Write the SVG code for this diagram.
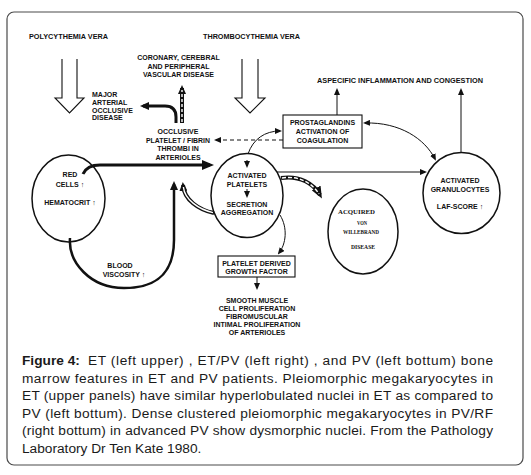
<svg xmlns="http://www.w3.org/2000/svg" width="531" height="475" viewBox="0 0 531 475">
<defs>
<style>
.lb{font-family:"Liberation Sans",Arial,sans-serif;font-weight:bold;font-size:7px;fill:#111;text-anchor:middle}
.ll{font-family:"Liberation Sans",Arial,sans-serif;font-weight:bold;font-size:7px;fill:#111;text-anchor:start}
.vw{font-family:"Liberation Serif","Times New Roman",serif;font-weight:bold;font-size:5.5px;fill:#111;text-anchor:start}
.cap{font-family:"Liberation Sans",Arial,sans-serif;font-size:13.7px;fill:#1a1a1a}
.nd{fill:none;stroke:#111;stroke-width:1.5}
.bx{fill:#fff;stroke:#111;stroke-width:1.1}
.thin{fill:none;stroke:#111;stroke-width:1}
.thick{fill:none;stroke:#111;stroke-width:3}
.hol{fill:none;stroke:#111;stroke-width:4}
.holw{fill:none;stroke:#fff;stroke-width:1.4}
.hollow{fill:#fff;stroke:#111;stroke-width:1.1}
</style>
<marker id="th" markerUnits="userSpaceOnUse" markerWidth="7" markerHeight="6" refX="5" refY="3" orient="auto-start-reverse" viewBox="0 0 7 6">
<path d="M0,0 L7,3 L0,6 z" fill="#111"/>
</marker>
<marker id="bg" markerUnits="userSpaceOnUse" markerWidth="12" markerHeight="10" refX="8" refY="5" orient="auto" viewBox="0 0 12 10">
<path d="M0,0 L12,5 L0,10 z" fill="#111"/>
</marker>
<marker id="md" markerUnits="userSpaceOnUse" markerWidth="9" markerHeight="8" refX="6" refY="4" orient="auto" viewBox="0 0 9 8">
<path d="M0,0 L9,4 L0,8 z" fill="#111"/>
</marker>
</defs>
<rect x="7" y="12" width="516" height="453" rx="7" fill="#fff" stroke="#4a4a4a" stroke-width="1.2"/>

<g id="connectors">
<polyline class="hollow" points="62,59 62,98 55,98 69.5,113 84,98 77,98 77,59"/>
<polyline class="hollow" points="242,59 242,98 235,98 250,113 265,98 258,98 258,59"/>
<path class="hol" d="M182,123 L182,88" marker-end="url(#md)"/>
<path class="holw" d="M182,122 L182,90" stroke-dasharray="3,2"/>
<path class="thick" d="M176,123 L176,117 Q176,106 165,106 L143,106" marker-end="url(#md)"/>
<path class="thick" d="M83,174 Q87,165 100,165 L210,165" marker-end="url(#bg)"/>
<path fill="none" stroke="#111" stroke-width="2.5" d="M70,238 C68,262 90,288 124,288 C160,288 174,270 174,240 L174,184" marker-end="url(#md)"/>
<path class="hol" d="M214,213 C199,210 184,200 183,185" marker-end="url(#md)"/>
<path class="holw" d="M213,212.6 C199,209.6 184.5,199.6 183.4,187"/>
<path class="hol" d="M281,178 C300,175 314,184 320,195" marker-end="url(#bg)"/>
<path class="holw" d="M282,178 C300,175 313.5,184.5 319,194" stroke-dasharray="4,2"/>
<path class="thin" d="M283,140 L216,140" stroke-dasharray="4,3" marker-end="url(#th)"/>
<path class="thin" d="M248,154 C253,139 265,131 280,131" marker-end="url(#th)"/>
<path class="thin" d="M365,123 C400,122 425,139 435,159" marker-start="url(#th)" marker-end="url(#th)"/>
<path class="thin" d="M337,115 L337,90" marker-end="url(#th)"/>
<path class="thin" d="M461,153 L461,90" marker-end="url(#th)"/>
<path class="thin" d="M277,172 L425,172" marker-end="url(#th)"/>
<path class="thin" d="M280,215 C288,228 286,244 279,253" marker-end="url(#th)"/>
<path class="thin" d="M257,277 L257,288" marker-end="url(#th)"/>
<path class="thin" d="M247,160 L247,166" marker-end="url(#th)"/>
<path class="thin" d="M247,189 L247,196" marker-end="url(#th)"/>
</g>

<g id="pv-label"><text class="lb" x="68.5" y="39" textLength="79" lengthAdjust="spacingAndGlyphs">POLYCYTHEMIA VERA</text></g>
<g id="et-label"><text class="lb" x="251.5" y="39" textLength="97" lengthAdjust="spacingAndGlyphs">THROMBOCYTHEMIA VERA</text></g>

<g id="vascular">
<text class="lb" x="178.5" y="60">CORONARY, CEREBRAL</text>
<text class="lb" x="178.5" y="68.5">AND PERIPHERAL</text>
<text class="lb" x="178.5" y="77">VASCULAR DISEASE</text>
</g>

<g id="major">
<text class="ll" x="92" y="97">MAJOR</text>
<text class="ll" x="92" y="105">ARTERIAL</text>
<text class="ll" x="92" y="112.5">OCCLUSIVE</text>
<text class="ll" x="92" y="120">DISEASE</text>
</g>

<g id="thrombi">
<text class="lb" x="178" y="134">OCCLUSIVE</text>
<text class="lb" x="178" y="142.5" textLength="64" lengthAdjust="spacingAndGlyphs">PLATELET / FIBRIN</text>
<text class="lb" x="178" y="151">THROMBI IN</text>
<text class="lb" x="178" y="159.5">ARTERIOLES</text>
</g>

<g id="aspecific"><text class="lb" x="400" y="83" textLength="166" lengthAdjust="spacingAndGlyphs">ASPECIFIC INFLAMMATION AND CONGESTION</text></g>

<g id="prostaglandins">
<rect class="bx" x="283" y="115" width="79" height="33"/>
<text class="lb" x="322.5" y="125">PROSTAGLANDINS</text>
<text class="lb" x="322.5" y="134">ACTIVATION OF</text>
<text class="lb" x="322.5" y="143">COAGULATION</text>
</g>

<g id="red-cells">
<ellipse class="nd" cx="68.5" cy="198.5" rx="36.5" ry="43.5"/>
<text class="lb" x="70" y="177">RED</text>
<text class="lb" x="70" y="187">CELLS ↑</text>
<text class="lb" x="70" y="205">HEMATOCRIT ↑</text>
</g>

<g id="viscosity">
<text class="lb" x="120" y="268">BLOOD</text>
<text class="lb" x="124" y="277">VISCOSITY ↑</text>
</g>

<g id="platelets">
<ellipse class="nd" cx="247" cy="195.5" rx="36" ry="42"/>
<text class="lb" x="247" y="178">ACTIVATED</text>
<text class="lb" x="247" y="186.5">PLATELETS</text>
<text class="lb" x="247" y="207">SECRETION</text>
<text class="lb" x="247" y="215">AGGREGATION</text>
</g>

<g id="vwd">
<ellipse class="nd" cx="363" cy="231.5" rx="35" ry="42.5"/>
<text class="vw" x="338" y="214" textLength="37" lengthAdjust="spacingAndGlyphs">ACQUIRED</text>
<text class="vw" x="357" y="225" textLength="10" lengthAdjust="spacingAndGlyphs">VON</text>
<text class="vw" x="343" y="234" textLength="36" lengthAdjust="spacingAndGlyphs">WILLEBRAND</text>
<text class="vw" x="351" y="249" textLength="24" lengthAdjust="spacingAndGlyphs">DISEASE</text>
</g>

<g id="granulocytes">
<ellipse class="nd" cx="461.5" cy="193" rx="38.5" ry="40.5"/>
<text class="lb" x="460" y="183">ACTIVATED</text>
<text class="lb" x="460" y="191.5">GRANULOCYTES</text>
<text class="lb" x="460" y="209">LAF-SCORE ↑</text>
</g>

<g id="pdgf">
<rect class="bx" x="218" y="256" width="77" height="21"/>
<text class="lb" x="256.5" y="266">PLATELET DERIVED</text>
<text class="lb" x="256.5" y="274">GROWTH FACTOR</text>
</g>

<g id="smooth-muscle">
<text class="lb" x="257" y="303">SMOOTH MUSCLE</text>
<text class="lb" x="257" y="311">CELL PROLIFERATION</text>
<text class="lb" x="257" y="319">FIBROMUSCULAR</text>
<text class="lb" x="257" y="327">INTIMAL PROLIFERATION</text>
<text class="lb" x="257" y="335">OF ARTERIOLES</text>
</g>

<g id="caption">
<text class="cap" x="22" y="365" font-weight="bold">Figure 4:</text>
<text class="cap" x="88" y="365" textLength="405" lengthAdjust="spacing">ET (left upper) , ET/PV (left right) , and PV (left bottum) bone</text>
<text class="cap" x="22" y="382.6" textLength="471" lengthAdjust="spacing">marrow features in ET and PV patients. Pleiomorphic megakaryocytes in</text>
<text class="cap" x="22" y="400.2" textLength="471" lengthAdjust="spacing">ET (upper panels) have similar hyperlobulated nuclei in ET as compared to</text>
<text class="cap" x="22" y="417.8" textLength="471" lengthAdjust="spacing">PV (left bottum). Dense clustered pleiomorphic megakaryocytes in PV/RF</text>
<text class="cap" x="22" y="435.4" textLength="471" lengthAdjust="spacing">(right bottum) in advanced PV show dysmorphic nuclei. From the Pathology</text>
<text class="cap" x="22" y="453">Laboratory Dr Ten Kate 1980.</text>
</g>
</svg>
